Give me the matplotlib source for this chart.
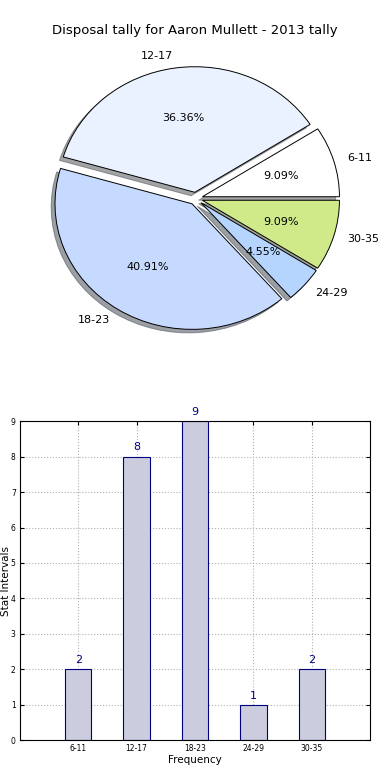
import matplotlib
matplotlib.use("Agg")
import matplotlib.pyplot as plt

# data
intervals = ['6-11', '12-17', '18-23', '24-29', '30-35']
tally = [2, 8, 9, 1, 2]
pie_colors = ['#ffffff', '#eaf1ff', '#c6d9ff', '#b5d5ff', '#d0ea8a']
explode = [0.05, 0.05, 0.05, 0.05, 0.05]

fig = plt.figure(figsize=(3.9, 7.8), dpi=100)
fig.patch.set_facecolor('white')

# pie chart
ax1 = fig.add_axes([0.038, 0.533, 0.928, 0.425])
wedges, texts, autotexts = ax1.pie(tally, labels=intervals, colors=pie_colors, explode=explode,
                                   autopct='%1.2f%%', shadow=True, startangle=0,
                                   wedgeprops={'edgecolor': 'black', 'linewidth': 0.7},
                                   textprops={'fontsize': 8})
ax1.set_aspect('auto')
ax1.set_xlim(-1.32, 1.32)
ax1.set_ylim(-1.32, 1.32)
fig.text(0.5, 0.961, 'Disposal tally for Aaron Mullett - 2013 tally', ha='center', va='center', fontsize=9.5)

# bar chart
ax2 = fig.add_axes([0.051, 0.051, 0.898, 0.409])
x = range(1, len(intervals) + 1)
bars = ax2.bar(x, tally, width=0.45, color='#ccccdf', edgecolor='navy', linewidth=0.8, zorder=2)
for xi, v in zip(x, tally):
    ax2.text(xi, v + 0.12, str(v), ha='center', va='bottom', color='navy', fontsize=8)
ax2.set_xlim(0, 6)
ax2.set_ylim(0, 9)
ax2.set_xticks(list(x))
ax2.set_xticklabels(intervals)
ax2.set_yticks(range(0, 10))
ax2.tick_params(labelsize=5.5, direction='in', top=True, right=True, length=3, pad=3)
ax2.grid(True, linestyle=':', color='#b0b0b0', linewidth=0.8, zorder=0)
ax2.set_xlabel('Frequency', fontsize=7.5, labelpad=1)
ax2.set_ylabel('Stat Intervals', fontsize=7.5, labelpad=0)

fig.savefig('out.png', dpi=100, facecolor='white')
